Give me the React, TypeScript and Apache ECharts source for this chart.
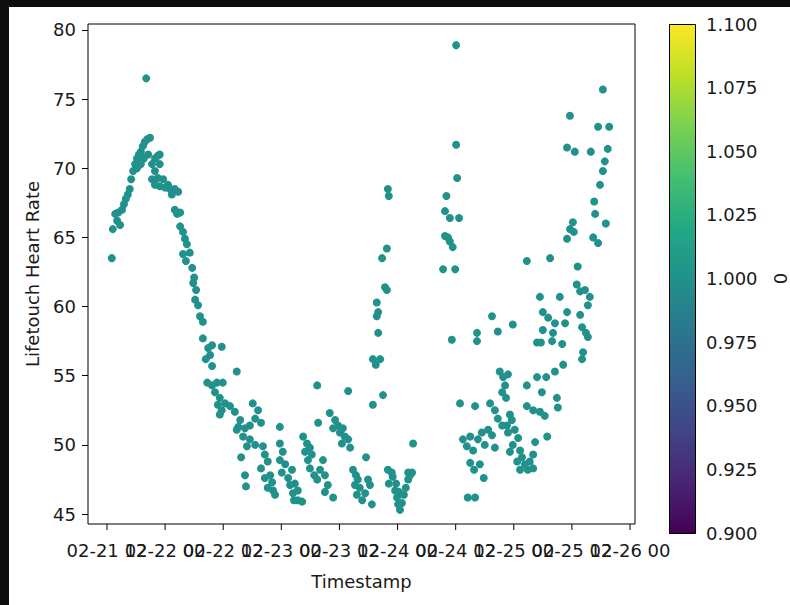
import React, { useEffect, useRef } from "react";
import * as echarts from "echarts";

// hours since 02-21 00:00
const hours: number[] = [
  13.0, 13.2, 13.7, 14.1, 14.3, 14.7, 15.1, 15.5, 15.9, 16.3, 16.7, 17.0, 17.4, 17.8, 18.2, 18.6, 19.0, 19.4, 19.8, 20.3, 20.9, 20.1, 19.0, 19.6, 20.5, 18.2,
  21.3, 21.9, 22.5, 22.9, 22.9, 21.9, 21.3, 21.9, 22.5, 22.9, 23.6, 24.0, 24.6, 25.0, 25.4, 26.0, 26.7, 26.0, 26.5, 27.1, 27.1, 27.7, 28.1, 28.5, 27.7, 29.1, 28.3, 29.6, 30.0, 29.8, 30.4, 30.2, 30.8, 31.2, 31.8, 31.8, 32.9, 33.7, 33.3, 32.4, 33.7, 35.7, 38.8,
  32.7, 33.7, 34.7, 35.9, 34.3, 35.3, 34.9, 35.7, 35.3, 36.4, 37.4, 38.4, 39.5, 39.1, 40.5, 42.1, 43.2, 42.6, 43.8, 41.5, 38.8, 40.1, 41.5, 40.9, 42.6, 39.7, 47.7, 40.5, 40.7,
  44.2, 44.6, 45.2, 43.8, 44.6, 45.7, 45.2, 46.3, 46.7, 46.1, 47.7, 48.3, 47.7, 48.8, 48.1, 49.4, 50.2, 49.8, 50.8, 50.4, 51.4, 51.4, 52.3, 50.6,
  52.5, 53.3, 52.9, 53.9, 53.5, 54.3, 53.9, 54.8, 55.4, 55.6, 55.4, 56.0, 56.6, 57.0, 57.6, 57.0, 58.7, 58.0, 59.1, 58.7, 59.7, 60.1, 60.7, 61.1, 60.5, 61.8, 62.2, 61.8,
  62.8, 63.4, 63.8, 63.2, 64.2, 63.6, 64.7, 65.3, 65.5, 65.9, 66.3, 66.7,
  66.9, 66.9, 67.5, 68.0, 67.7, 68.0, 67.7, 69.4, 69.8, 69.0, 68.4, 68.8, 69.8, 70.0, 70.2, 70.0, 70.8, 70.2,
  71.0, 71.5, 71.9, 72.1, 72.5, 72.9, 73.3, 73.7, 74.2, 74.6, 75.0, 74.2, 75.2, 71.7, 72.3,
  84.1, 84.1, 84.3, 82.1, 81.8, 82.8, 84.7, 81.8, 82.8, 83.4, 81.4, 83.9, 83.2, 84.9, 82.4,
  88.0, 88.4, 88.4, 91.5, 92.7, 95.8, 85.5, 86.3, 87.0, 87.6, 88.6, 89.4, 90.0, 90.7, 91.5, 92.1, 87.0, 87.8, 89.0, 89.8, 86.5, 88.0,
  91.1, 92.1, 92.7, 93.6, 93.1, 93.8, 94.8, 94.2, 93.6, 94.4, 95.2, 94.6, 95.6, 96.2, 94.8, 96.9, 95.8, 97.3, 95.2, 97.7, 96.7, 98.3, 98.9, 97.3, 100.0, 99.3,
  98.7, 100.8, 101.8, 102.9, 104.9, 105.1, 98.7, 100.0, 101.4, 102.4, 100.4, 100.0, 102.7, 104.5, 106.2, 101.4, 105.5, 102.0, 103.1, 104.5, 100.8, 101.6, 103.9, 106.0, 102.0, 104.1, 107.0, 106.6, 98.7, 103.5,
  109.0, 109.7, 110.7, 111.7, 111.3, 109.7, 110.1, 110.9, 111.3, 110.3, 110.1, 107.6, 107.0, 108.6, 111.9, 114.4, 113.4, 115.7, 115.4, 114.8, 114.4, 113.8, 112.6, 112.8, 115.0, 108.2, 108.4, 107.0, 112.4, 113.4, 109.2, 107.6,
];

const heartRate: number[] = [
  63.5, 65.6, 66.7, 66.2, 66.8, 65.9, 67.0, 67.4, 67.8, 68.1, 68.5, 69.2, 69.8, 70.3, 70.7, 71.0, 71.2, 71.6, 71.9, 72.1, 72.2, 76.5, 70.3, 70.7, 71.0, 70.0,
  70.3, 70.7, 70.9, 71.0, 70.3, 69.8, 69.2, 68.8, 69.3, 68.7, 69.2, 68.6, 68.8, 68.5, 68.1, 68.5, 68.3, 67.0, 66.7, 66.8, 65.8, 65.4, 64.9, 64.5, 63.8, 63.9, 63.3, 62.8, 62.1, 61.7, 61.2, 60.5, 60.1, 59.3, 58.9, 57.7, 57.0, 57.2, 56.5, 56.2, 55.7, 57.1, 55.3,
  54.5, 54.3, 54.5, 54.5, 53.8, 53.4, 52.9, 52.5, 52.2, 53.0, 52.8, 52.4, 51.8, 51.3, 51.2, 53.0, 52.5, 51.9, 51.6, 51.4, 51.1, 50.6, 50.4, 49.9, 50.0, 49.1, 51.3, 47.8, 47.0,
  49.9, 49.3, 48.8, 48.3, 47.6, 47.8, 46.9, 46.7, 46.4, 47.3, 50.1, 49.5, 48.9, 48.6, 48.0, 47.6, 48.2, 47.1, 47.2, 46.5, 46.7, 46.0, 45.9, 46.0,
  50.6, 50.1, 49.5, 49.8, 48.9, 49.3, 48.3, 47.8, 47.5, 51.6, 54.3, 48.2, 48.9, 47.8, 47.1, 46.6, 46.2, 52.3, 51.8, 51.2, 51.4, 50.9, 51.2, 50.6, 50.1, 50.4, 49.8, 53.9,
  48.2, 47.8, 47.5, 47.1, 46.9, 46.4, 46.0, 46.5, 49.1, 47.5, 47.1, 45.7,
  52.9, 56.2, 55.8, 58.1, 59.3, 59.6, 60.3, 61.4, 61.2, 53.6, 56.2, 63.5, 64.2, 68.5, 68.0, 48.2, 48.0, 47.2,
  47.7, 46.7, 46.2, 45.7, 45.3, 45.8, 46.4, 46.9, 47.5, 47.8, 48.0, 48.0, 50.1, 47.2, 46.6,
  78.9, 71.7, 69.3, 68.0, 66.9, 66.4, 66.4, 65.1, 64.7, 64.3, 62.7, 62.7, 57.6, 53.0, 65.0,
  52.8, 58.1, 57.5, 59.3, 58.2, 58.7, 50.4, 49.9, 50.6, 49.6, 50.4, 50.9, 50.0, 51.1, 50.7, 49.8, 48.7, 48.2, 48.6, 47.6, 46.2, 46.2,
  53.0, 52.5, 51.9, 51.4, 55.3, 54.9, 55.1, 54.3, 53.8, 53.4, 52.2, 51.4, 51.8, 51.1, 50.9, 50.5, 50.0, 49.6, 49.5, 49.1, 48.8, 48.6, 48.2, 48.2, 48.3, 48.8,
  54.3, 54.9, 53.8, 50.6, 53.4, 52.7, 52.8, 52.5, 52.4, 52.1, 50.2, 49.3, 54.9, 55.3, 55.8, 60.7, 60.7, 59.6, 59.2, 58.8, 57.4, 57.4, 57.5, 57.3, 58.3, 58.1, 59.6, 58.8, 63.3, 63.5,
  61.6, 61.1, 61.2, 60.7, 60.1, 59.4, 58.5, 58.1, 57.8, 56.7, 56.2, 73.8, 71.5, 71.2, 71.2, 75.7, 73.0, 73.0, 71.4, 70.5, 69.8, 68.8, 67.6, 66.7, 66.0, 66.1, 65.4, 64.9, 65.0, 64.6, 62.9, 65.6,
];

const colorValue = 1.0;

const xTickValues = [12, 24, 36, 48, 60, 72, 84, 96, 108, 120];
const xTickLabels = ["02-21 12", "02-22 00", "02-22 12", "02-23 00", "02-23 12", "02-24 00", "02-24 12", "02-25 00", "02-25 12", "02-26 00"];
const yTickValues = [45, 50, 55, 60, 65, 70, 75, 80];

const viridisStops = ["#440154", "#482475", "#414487", "#355f8d", "#2a788e", "#21918c", "#22a884", "#44bf70", "#7ad151", "#bddf26", "#fde725"];

const FONT = "DejaVu Sans";
const TXT = "#1a1a1a";
const FS = 18;
const Y_MIN = 44.28;
const Y_MAX = 80.43;

function viridis(t: number): string {
  const n = viridisStops.length - 1;
  const i = Math.min(n, Math.max(0, Math.round(t * n)));
  return viridisStops[i];
}

export default function App() {
  const ref = useRef<HTMLDivElement>(null);
  useEffect(() => {
    if (!ref.current) return;
    const chart = echarts.init(ref.current, undefined, { renderer: "svg" });
    const data = hours.map((h, i) => [h, heartRate[i]]);
    const tickData = xTickValues.map((v, i) => ({ value: [v, Y_MIN], name: xTickLabels[i] }));
    const gradient = new echarts.graphic.LinearGradient(
      0, 0, 0, 1,
      viridisStops.map((c, i) => ({ offset: 1 - i / (viridisStops.length - 1), color: c })).reverse()
    );
    chart.setOption({
      animation: false,
      backgroundColor: "#ffffff",
      textStyle: { fontFamily: FONT },
      grid: [
        { left: 88, top: 24, width: 547, height: 500, show: true, borderColor: "#000", borderWidth: 1, backgroundColor: "transparent" },
        { left: 669, top: 24, width: 26, height: 509, show: false },
      ],
      xAxis: [
        {
          type: "value", gridIndex: 0, min: 8.08, max: 121.03,
          name: "Timestamp", nameLocation: "middle", nameGap: 48,
          nameTextStyle: { fontFamily: FONT, fontSize: FS, color: TXT },
          axisLine: { show: false },
          axisTick: { show: false },
          axisLabel: { show: false },
          splitLine: { show: false },
        },
        { type: "value", gridIndex: 1, show: false, min: 0, max: 1 },
      ],
      yAxis: [
        {
          type: "value", gridIndex: 0, min: Y_MIN, max: Y_MAX,
          name: "Lifetouch Heart Rate", nameLocation: "middle", nameGap: 47, nameRotate: 90,
          nameTextStyle: { fontFamily: FONT, fontSize: FS, color: TXT },
          axisLine: { show: false },
          axisTick: { show: true, inside: false, length: 6, lineStyle: { color: "#000" }, customValues: yTickValues },
          axisLabel: { show: true, margin: 12, fontFamily: FONT, fontSize: FS, color: TXT, showMinLabel: true, showMaxLabel: true, customValues: yTickValues, formatter: (v: number) => String(Math.round(v)) },
          splitLine: { show: false },
        },
        {
          type: "value", gridIndex: 1, position: "right", min: 0.9, max: 1.1, interval: 0.025,
          name: "0", nameLocation: "middle", nameGap: 80, nameRotate: 90,
          nameTextStyle: { fontFamily: FONT, fontSize: FS, color: TXT },
          axisLine: { show: false },
          axisTick: { show: true, inside: false, length: 6, lineStyle: { color: "#000" } },
          axisLabel: { show: true, margin: 15, fontFamily: FONT, fontSize: FS, color: TXT, showMinLabel: true, showMaxLabel: true, formatter: (v: number) => v.toFixed(3) },
          splitLine: { show: false },
        },
      ],
      graphic: [
        { type: "rect", left: 669, top: 24, shape: { width: 26, height: 509 }, style: { fill: gradient, stroke: "#000", lineWidth: 1 }, z: 1 },
        { type: "rect", left: 0, top: 0, shape: { width: 790, height: 7 }, style: { fill: "#0e0e0e" }, z: 10 },
        { type: "rect", left: 0, top: 0, shape: { width: 9, height: 605 }, style: { fill: "#0e0e0e" }, z: 10 },
      ],
      series: [
        {
          type: "scatter", xAxisIndex: 0, yAxisIndex: 0, data, symbol: "circle", symbolSize: 8,
          itemStyle: { color: viridis((colorValue - 0.9) / 0.2), opacity: 1 },
          emphasis: { disabled: true },
        },
        {
          // x-axis ticks and tick labels, placed through the x scale
          type: "scatter", xAxisIndex: 0, yAxisIndex: 0, data: tickData, clip: false, silent: true,
          symbol: "rect", symbolSize: [1, 6], symbolOffset: [0, 3],
          itemStyle: { color: "#000", opacity: 1 },
          label: {
            show: true, position: "bottom", distance: 11, formatter: (p: any) => p.name,
            fontFamily: FONT, fontSize: FS, color: TXT, fontWeight: "normal",
            textBorderWidth: 0, textBorderColor: "transparent", opacity: 1,
          },
          labelLayout: { hideOverlap: false },
          emphasis: { disabled: true },
          z: 1,
        },
      ],
    });
    return () => chart.dispose();
  }, []);
  return <div ref={ref} style={{ position: "absolute", left: 0, top: 0, width: 790, height: 605 }} />;
}
